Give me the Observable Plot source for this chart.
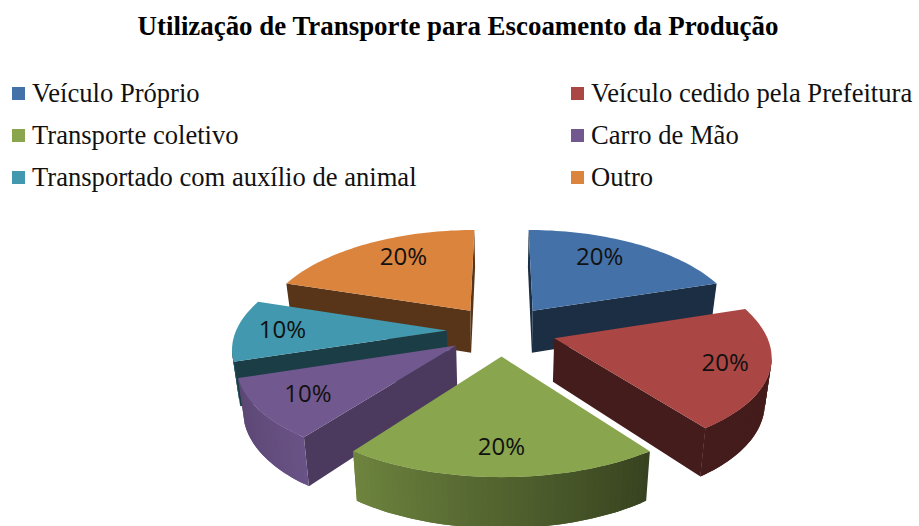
<!DOCTYPE html>
<html lang="pt">
<head>
<meta charset="utf-8">
<script src="https://cdn.jsdelivr.net/npm/d3@7"></script>
<script src="https://cdn.jsdelivr.net/npm/@observablehq/plot@0.6"></script>
<style>
html,body{margin:0;padding:0;background:#fff;overflow:hidden}
#page{position:relative;width:919px;height:526px}
#title{position:absolute;left:0;top:12px;width:916px;text-align:center;font:bold 26.9px "Liberation Serif",serif;color:#000;line-height:28px;white-space:nowrap}
.leg{position:absolute;font:26.6px "Liberation Serif",serif;color:#111;line-height:30px;white-space:nowrap}
.sw{position:absolute;width:13px;height:13px}
#chart{position:absolute;left:0;top:215px}
</style>
</head>
<body>
<div id="page"><div id="title"></div><div id="chart"></div></div>
<script>
const title = "Utilização de Transporte para Escoamento da Produção";
const categories = ["Veículo Próprio","Veículo cedido pela Prefeitura","Transporte coletivo","Carro de Mão","Transportado com auxílio de animal","Outro"];
const shares = [20,20,20,10,10,20];
const colors = ["#4472a8","#aa4643","#89a54e","#71588f","#4198af","#db843d"];
const drawOrder = [5,0,4,1,3,2];
const labelRadius = [0.62,0.80,0.78,0.77,0.78,0.62];
const labelLift = [10,0,0,0,0,10];
const faceShade = [.40,.40,.40,.66,.40,.40];

const page = document.getElementById("page");
document.getElementById("title").textContent = title;
categories.forEach((c,i)=>{
  const col = i%2, row = Math.floor(i/2);
  const left = col? 571:12, cy = 93+row*42;
  const sw = document.createElement("div"); sw.className="sw";
  sw.style.cssText=`left:${left}px;top:${cy-6}px;background:${colors[i]}`;
  const t = document.createElement("div"); t.className="leg";
  t.style.cssText=`left:${left+20}px;top:${cy-15}px`; t.textContent=c;
  page.append(sw,t);
});

// pie geometry: exploded disc seen in perspective
const CX=501, CY=330, RX=210.6, RZ=96.6, PX=0.155, PZ=0.135, EXPLODE=0.26, DEPTH=43;
const rad = d=>d*Math.PI/180;
function project(X,Z){return [CX+RX*X/(1+PX*Z), CY-RZ*Z/(1+PZ*Z)];}
function lower([x,y]){return [CX+(x-CX)*0.975, y+DEPTH+(y-CY)*0.055];}
const arcs = d3.pie().sort(null).startAngle(0).endAngle(2*Math.PI)(shares);
const wallShade = d3.scaleLinear()
  .domain([0,144,216,216.01,252,252.01,288,360])
  .range([.40,.40,.80,.93,.80,.50,.50,.40]);

const flats=[], labels=[];
let nid=0;
function add(target,pts,fill){const id=nid++;[...pts,pts[0]].forEach(p=>target.push({id,x:p[0],y:p[1],fill}));}
drawOrder.forEach(i=>{
  const a=arcs[i], mid=(a.startAngle+a.endAngle)/2;
  const ox=EXPLODE*Math.sin(mid), oz=EXPLODE*Math.cos(mid);
  const at=(t,r=1)=>project(ox+r*Math.sin(t),oz+r*Math.cos(t));
  const apex=project(ox,oz);
  const n=Math.max(8,Math.round((a.endAngle-a.startAngle)/rad(1.5)));
  const rim=d3.range(n+1).map(k=>at(a.startAngle+(a.endAngle-a.startAngle)*k/n));
  const base=colors[i];
  const shade=f=>d3.interpolateRgb("#000",base)(f);
  const group=[];
  const dark=shade(faceShade[i]);
  if(rim[0][0]<apex[0]) add(group,[apex,rim[0],lower(rim[0]),lower(apex)],dark);
  if(apex[0]<rim[n][0]) add(group,[rim[n],apex,lower(apex),lower(rim[n])],dark);
  for(let k=0;k<n;k++){
    if(rim[k+1][0]>=rim[k][0]) continue;
    const deg=(a.startAngle+(a.endAngle-a.startAngle)*(k+.5)/n)*180/Math.PI;
    const next=rim[Math.min(k+2,n)];
    const far=next[0]<rim[k+1][0]?next:rim[k+1];
    add(group,[rim[k],rim[k+1],far,lower(far),lower(rim[k+1]),lower(rim[k])],shade(wallShade(deg)));
  }
  add(group,[apex,...rim],base);
  flats.push(...group);
  const l=at(mid,labelRadius[i]);
  labels.push({x:l[0],y:l[1]-labelLift[i],text:shares[i]+"%"});
});

const chart=Plot.plot({
  width:919,height:311,margin:0,
  style:{background:"transparent",overflow:"visible"},
  x:{domain:[0,919],range:[0,919],axis:null},
  y:{domain:[215,526],range:[0,311],axis:null},
  color:{type:"identity"},
  marks:[
    Plot.line(flats,{x:"x",y:"y",z:"id",fill:"fill"}),
    Plot.text(labels,{x:"x",y:"y",text:"text",fontSize:24,fontFamily:"'Open Sans',sans-serif",fill:"#111"})
  ]
});
document.getElementById("chart").append(chart);
</script>
</body>
</html>
